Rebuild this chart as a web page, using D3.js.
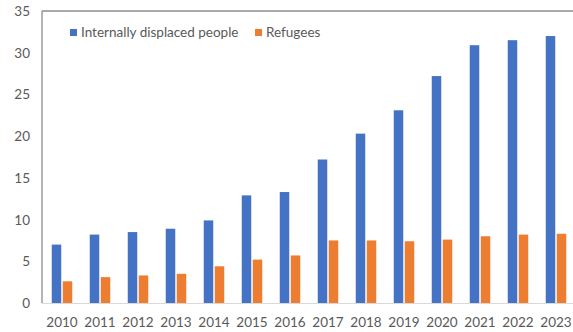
<!DOCTYPE html>
<html>
<head>
<meta charset="utf-8">
<script src="https://cdn.jsdelivr.net/npm/d3@7"></script>
<style>
	body { margin: 0; background: #fff; }
	text { font-family: Lato, "Open Sans", sans-serif; fill: #595959; }
</style>
</head>
<body>
<svg id="chart" width="573" height="332"></svg>
<script>
const years = ["2010", "2011", "2012", "2013", "2014", "2015", "2016", "2017", "2018", "2019", "2020", "2021", "2022", "2023"];
const displaced = [7.0, 8.2, 8.5, 8.9, 9.9, 12.9, 13.3, 17.2, 20.3, 23.1, 27.2, 30.9, 31.5, 32.0];
const refugees = [2.6, 3.1, 3.3, 3.5, 4.4, 5.2, 5.7, 7.5, 7.5, 7.4, 7.6, 8.0, 8.2, 8.3];
const yTicks = [0, 5, 10, 15, 20, 25, 30, 35];

const colors = {
	displaced: "#4472C4",
	refugees: "#ED7D31",
	text: "#595959",
};

const svg = d3.select("#chart");
const margin = { left: 43, top: 11, bottom: 303 };
const step = 38;

const x = d3
	.scaleBand()
	.domain(years)
	.range([margin.left, margin.left + step * years.length]);

const y = d3.scaleLinear().domain([0, 35]).range([margin.bottom, margin.top]);

// frame: top + left
svg.append("line")
	.attr("x1", margin.left - 1).attr("x2", 573)
	.attr("y1", margin.top).attr("y2", margin.top)
	.attr("stroke", "#8c8c8c").attr("stroke-width", 1.3);
svg.append("line")
	.attr("x1", margin.left - 1).attr("x2", margin.left - 1)
	.attr("y1", margin.top).attr("y2", margin.bottom)
	.attr("stroke", "#8c8c8c").attr("stroke-width", 1.3);

// y tick labels
svg.selectAll(".yLabel")
	.data(yTicks)
	.join("text")
	.attr("class", "yLabel")
	.attr("x", 30)
	.attr("y", (d) => y(d) + 5)
	.attr("text-anchor", "end")
	.attr("font-size", 13.5)
	.text((d) => d);

const barW = 9.5;
const gap = 1.5;

const group = svg.selectAll(".year")
	.data(years)
	.join("g")
	.attr("class", "year")
	.attr("transform", (d) => `translate(${x(d) + x.bandwidth() / 2},0)`);

group.append("rect")
	.attr("x", -barW - gap / 2)
	.attr("y", (d, i) => y(displaced[i]))
	.attr("width", barW)
	.attr("height", (d, i) => y(0) - y(displaced[i]))
	.attr("fill", colors.displaced);

group.append("rect")
	.attr("x", gap / 2)
	.attr("y", (d, i) => y(refugees[i]))
	.attr("width", barW)
	.attr("height", (d, i) => y(0) - y(refugees[i]))
	.attr("fill", colors.refugees);

// baseline
svg.append("line")
	.attr("x1", margin.left - 1).attr("x2", 573)
	.attr("y1", y(0) + 0.5).attr("y2", y(0) + 0.5)
	.attr("stroke", "#d9d9d9").attr("stroke-width", 1);

group.append("text")
	.attr("y", 327)
	.attr("text-anchor", "middle")
	.attr("font-size", 13.5)
	.text((d) => d);

// legend
const legend = [
	{ label: "Internally displaced people", color: colors.displaced, x: 70 },
	{ label: "Refugees", color: colors.refugees, x: 255 },
];
const lg = svg.selectAll(".legend")
	.data(legend)
	.join("g")
	.attr("class", "legend")
	.attr("transform", (d) => `translate(${d.x},29)`);
lg.append("rect").attr("width", 7).attr("height", 7).attr("fill", (d) => d.color);
lg.append("text")
	.attr("x", 11)
	.attr("y", 8)
	.attr("font-size", 13.5)
	.text((d) => d.label);
</script>
</body>
</html>
